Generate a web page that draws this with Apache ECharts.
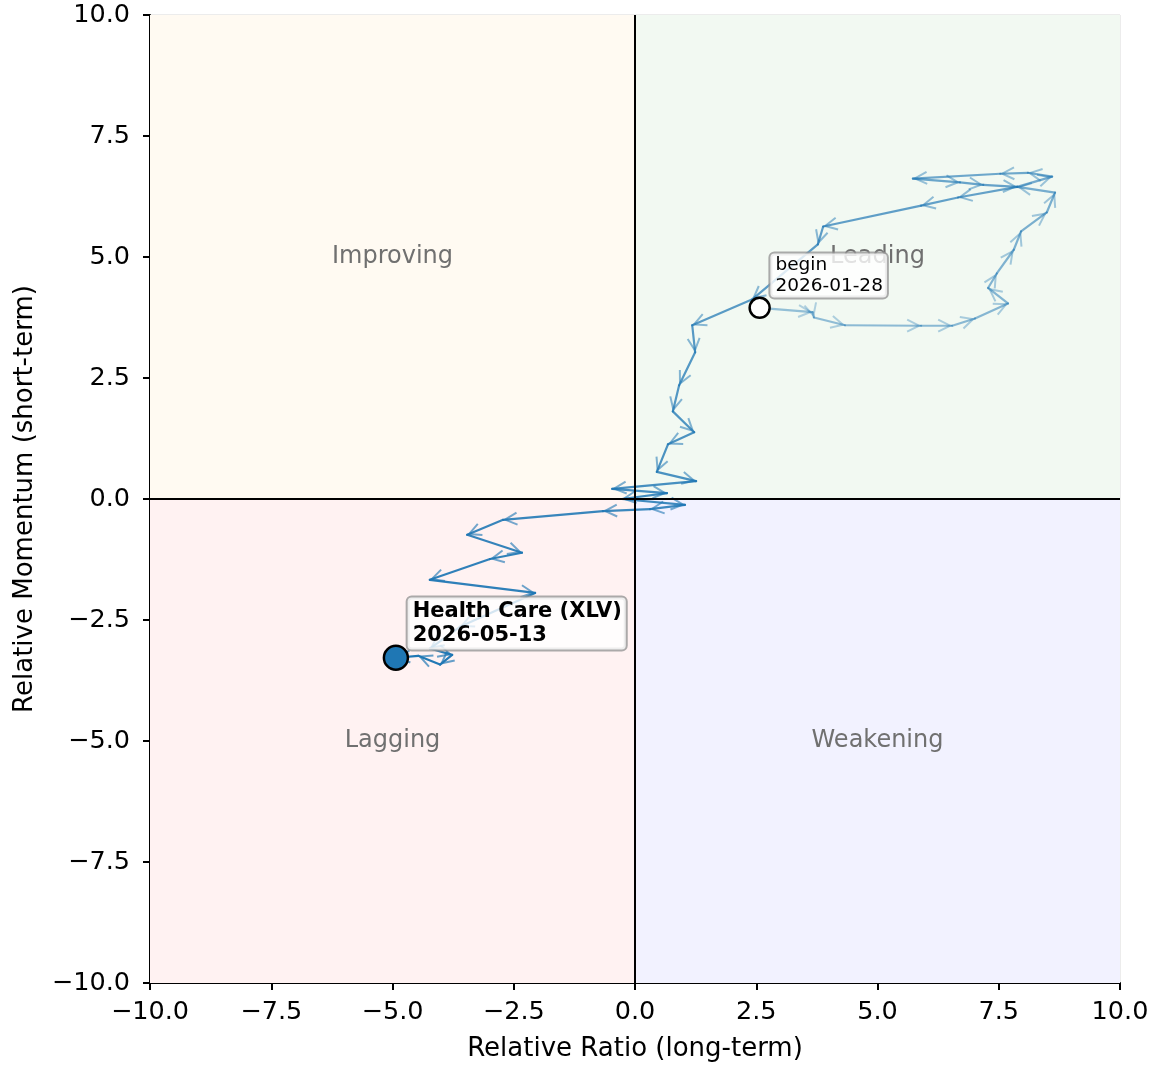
<!DOCTYPE html>
<html>
<head>
<meta charset="utf-8">
<script src="https://cdn.jsdelivr.net/npm/echarts@6/dist/echarts.min.js"></script>
<style>
html,body{margin:0;padding:0;background:#fff;}
#chart{width:1154px;height:1067px;}
</style>
</head>
<body>
<div id="chart"></div>
<script>
// ---- data ----
const tickValues = [-10, -7.5, -5, -2.5, 0, 2.5, 5, 7.5, 10];
const quadrantNames = ['Improving', 'Leading', 'Lagging', 'Weakening'];
const tickerName = 'Health Care (XLV)';
const beginDate = '2026-01-28';
const endDate = '2026-05-13';
// relative ratio (x) and relative momentum (y), oldest -> newest
const rsRatio = [2.57, 3.66, 3.69, 4.33, 5.90, 6.54, 7.01, 7.69, 7.28, 7.46, 7.81, 7.96, 8.49, 8.66,
  7.88, 8.60, 8.10, 7.53, 5.73, 6.70, 7.18, 7.88, 6.66, 5.90, 3.88, 3.77, 2.41,
  1.18, 1.24, 0.91, 0.78, 1.22, 0.68, 0.45, 1.26, -0.47, 0.66, -0.27, 1.03, 0.31, -0.66,
  -2.72, -3.46, -2.33, -2.99, -4.23, -2.06, -3.61, -4.23, -3.77, -4.02, -4.47, -4.93];
const rsMomentum = [3.95, 3.86, 3.75, 3.59, 3.58, 3.58, 3.73, 4.04, 4.36, 4.66, 5.15, 5.53, 5.92, 6.33,
  6.45, 6.66, 6.74, 6.72, 6.62, 6.54, 6.49, 6.45, 6.23, 6.06, 5.63, 5.26, 4.12,
  3.59, 3.03, 2.35, 1.81, 1.38, 1.13, 0.56, 0.37, 0.21, 0.12, 0.00, -0.12, -0.21, -0.25,
  -0.43, -0.74, -1.11, -1.24, -1.67, -1.94, -2.64, -3.09, -3.22, -3.42, -3.24, -3.28];

const FONT = 'DejaVu Sans';
const BLUE = '31,119,180';

const segments = [];
for (let i = 0; i < rsRatio.length - 1; i++) {
  segments.push([rsRatio[i], rsMomentum[i], rsRatio[i + 1], rsMomentum[i + 1]]);
}
const nSeg = segments.length;
const last = rsRatio.length - 1;

function fmt(v) {
  return v.toFixed(1).replace('-', '\u2212');
}

const chart = echarts.init(document.getElementById('chart'), null, {renderer: 'canvas'});

const axisCommon = {
  type: 'value', min: tickValues[0], max: tickValues[tickValues.length - 1], interval: 2.5,
  nameLocation: 'middle',
  nameTextStyle: {fontFamily: FONT, fontSize: 26, color: '#000'},
  axisLine: {show: true, onZero: false, lineStyle: {color: '#000', width: 2}},
  axisTick: {show: true, inside: false, length: 7, lineStyle: {color: '#000', width: 2}},
  axisLabel: {fontFamily: FONT, fontSize: 25.5, color: '#000', formatter: fmt, showMinLabel: true, showMaxLabel: true},
  splitLine: {show: true, lineStyle: {color: 'rgba(0,0,0,0.1)', width: 1.5}}
};

const qLabel = {show: true, position: 'inside', fontFamily: FONT, fontSize: 24, color: '#707070'};

const option = {
  animation: false,
  backgroundColor: '#fff',
  grid: {left: 150, right: 34, top: 15, bottom: 82, containLabel: false},
  xAxis: Object.assign({}, axisCommon, {
    name: 'Relative Ratio (long-term)', nameGap: 53,
    axisLabel: Object.assign({}, axisCommon.axisLabel, {margin: 16})
  }),
  yAxis: Object.assign({}, axisCommon, {
    name: 'Relative Momentum (short-term)', nameGap: 112,
    axisLabel: Object.assign({}, axisCommon.axisLabel, {margin: 20})
  }),
  series: [
    {
      type: 'line', data: [], silent: true, z: 1,
      markArea: {
        silent: true,
        data: [
          [{xAxis: -10, yAxis: 0, itemStyle: {color: 'rgb(255,250,242)'}, label: Object.assign({}, qLabel, {formatter: quadrantNames[0]})}, {xAxis: 0, yAxis: 10}],
          [{xAxis: 0, yAxis: 0, itemStyle: {color: 'rgb(242,249,242)'}, label: Object.assign({}, qLabel, {formatter: quadrantNames[1]})}, {xAxis: 10, yAxis: 10}],
          [{xAxis: -10, yAxis: -10, itemStyle: {color: 'rgb(255,242,242)'}, label: Object.assign({}, qLabel, {formatter: quadrantNames[2]})}, {xAxis: 0, yAxis: 0}],
          [{xAxis: 0, yAxis: -10, itemStyle: {color: 'rgb(242,242,255)'}, label: Object.assign({}, qLabel, {formatter: quadrantNames[3]})}, {xAxis: 10, yAxis: 0}]
        ]
      },
      markLine: {
        silent: true, symbol: 'none', label: {show: false},
        lineStyle: {color: '#000', width: 2, type: 'solid'},
        data: [{xAxis: 0}, {yAxis: 0}]
      }
    },
    {
      type: 'custom', z: 3, silent: true,
      data: segments,
      encode: {x: [0, 2], y: [1, 3]},
      renderItem: function (params, api) {
        const p0 = api.coord([api.value(0), api.value(1)]);
        const p1 = api.coord([api.value(2), api.value(3)]);
        const i = params.dataIndex;
        const a = 0.45 + 0.55 * i / (nSeg - 1);
        const dx = p1[0] - p0[0], dy = p1[1] - p0[1];
        const L = Math.hypot(dx, dy) || 1;
        const ux = dx / L, uy = dy / L;
        const tip = [p1[0] - ux * 2, p1[1] - uy * 2];
        const hl = 12, hw = 6;
        const b = [tip[0] - ux * hl, tip[1] - uy * hl];
        const w1 = [b[0] - uy * hw, b[1] + ux * hw];
        const w2 = [b[0] + uy * hw, b[1] - ux * hw];
        return {
          type: 'group',
          children: [
            {type: 'line', shape: {x1: p0[0], y1: p0[1], x2: p1[0], y2: p1[1]},
              style: {stroke: 'rgba(' + BLUE + ',' + a + ')', lineWidth: 2.2, lineCap: 'round'}},
            {type: 'polyline', shape: {points: [w1, tip, w2]},
              style: {stroke: 'rgba(' + BLUE + ',' + (a * 0.7) + ')', fill: null, lineWidth: 2, lineJoin: 'miter'}}
          ]
        };
      }
    },
    {
      type: 'scatter', z: 5, silent: true,
      symbol: 'circle', symbolSize: 20,
      itemStyle: {color: '#fff', borderColor: '#000', borderWidth: 2.5, opacity: 1},
      data: [[rsRatio[0], rsMomentum[0]]],
      label: {
        show: true, position: [22, -43],
        formatter: 'begin\n' + beginDate,
        fontFamily: FONT, fontSize: 18.5, lineHeight: 21, color: '#000',
        backgroundColor: 'rgba(255,255,255,0.8)', borderColor: 'rgba(150,150,150,0.8)',
        borderWidth: 2, borderRadius: 4, padding: [1, 4, 1, 5]
      }
    },
    {
      type: 'scatter', z: 6, silent: true,
      symbol: 'circle', symbolSize: 24,
      itemStyle: {color: 'rgb(' + BLUE + ')', borderColor: '#000', borderWidth: 2.5, opacity: 1},
      data: [[rsRatio[last], rsMomentum[last]]],
      label: {
        show: true, position: [25, -47],
        formatter: tickerName + '\n' + endDate,
        fontFamily: FONT, fontSize: 21, fontWeight: 'bold', lineHeight: 24, color: '#000',
        backgroundColor: 'rgba(255,255,255,0.8)', borderColor: 'rgba(150,150,150,0.8)',
        borderWidth: 2, borderRadius: 4, padding: [2, 4, 2, 5]
      }
    }
  ]
};
chart.setOption(option);
</script>
</body>
</html>
